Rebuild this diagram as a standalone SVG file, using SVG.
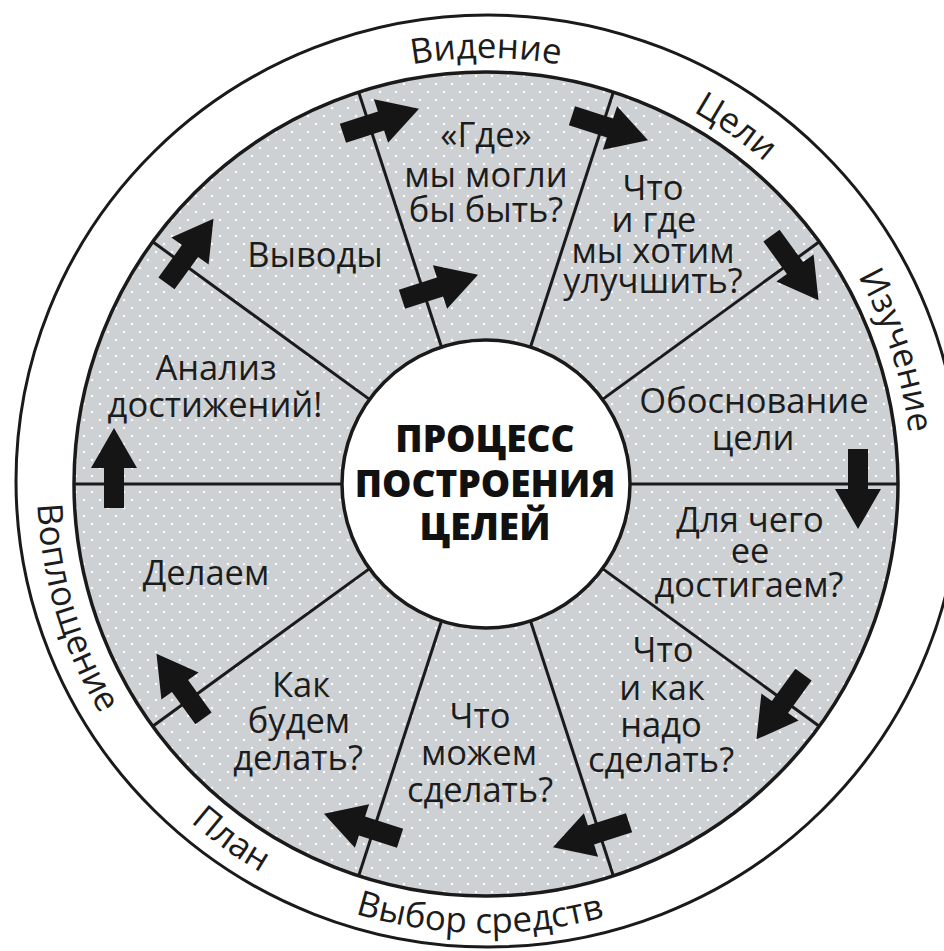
<svg xmlns="http://www.w3.org/2000/svg" width="944" height="951" viewBox="0 0 944 951">
  <defs>
    <pattern id="dots" patternUnits="userSpaceOnUse" width="16" height="16">
      <rect width="16" height="16" fill="#cdd1d4"/>
      <circle cx="4" cy="4" r="1.3" fill="#ffffff" opacity="0.9"/>
      <circle cx="12" cy="12" r="1.3" fill="#ffffff" opacity="0.9"/>
    </pattern>
    <path id="arcTop" d="M60,484 A426,426 0 1 1 912,484 A426,426 0 1 1 60,484"/>
    <path id="arcBottom" d="M37,484 A449,449 0 1 0 935,484 A449,449 0 1 0 37,484"/>
    <path id="arrow" d="M-40,-10 H0 V-23 L40,0 L0,23 V10 H-40 Z"/>
  </defs>
  <style>
    .lbl { font-family: "Open Sans", "Noto Sans", sans-serif; font-size: 34.5px; fill: #1c1c1c; text-anchor: middle; }
    .ring { font-family: "Open Sans", "Noto Sans", sans-serif; font-size: 35px; fill: #1c1c1c; }
    .title { font-family: "Open Sans", "Noto Sans", sans-serif; font-size: 37px; font-weight: 800; fill: #111; text-anchor: middle; }
    .div { stroke: #1a1a1a; stroke-width: 3; fill: none; }
    .arr { fill: #151515; }
  </style>
  <rect width="944" height="951" fill="#ffffff"/>
  <g id="outer-ring">
    <ellipse cx="488" cy="481" rx="472" ry="466" fill="#ffffff" stroke="#1a1a1a" stroke-width="3"/>
    <text class="ring"><textPath href="#arcTop" startOffset="669" text-anchor="middle">Видение</textPath></text>
    <text class="ring"><textPath href="#arcTop" startOffset="929" text-anchor="middle">Цели</textPath></text>
    <text class="ring"><textPath href="#arcTop" startOffset="1204" text-anchor="middle">Изучение</textPath></text>
    <text class="ring"><textPath href="#arcBottom" startOffset="699" text-anchor="middle">Выбор средств</textPath></text>
    <text class="ring"><textPath href="#arcBottom" startOffset="426" text-anchor="middle">План</textPath></text>
    <text class="ring"><textPath href="#arcBottom" startOffset="131" text-anchor="middle">Воплощение</textPath></text>
  </g>
  <g id="wheel">
    <circle cx="486" cy="484" r="412" fill="url(#dots)" stroke="#1a1a1a" stroke-width="3.5"/>
    <line class="div" x1="630" y1="484" x2="898" y2="484"/>
    <line class="div" x1="602.5" y1="568.6" x2="819.3" y2="726.2"/>
    <line class="div" x1="530.5" y1="621" x2="613.3" y2="875.8"/>
    <line class="div" x1="441.5" y1="621" x2="358.7" y2="875.8"/>
    <line class="div" x1="369.5" y1="568.6" x2="152.7" y2="726.2"/>
    <line class="div" x1="342" y1="484" x2="74" y2="484"/>
    <line class="div" x1="369.5" y1="399.4" x2="152.7" y2="241.8"/>
    <line class="div" x1="441.5" y1="347" x2="358.7" y2="92.2"/>
    <line class="div" x1="530.5" y1="347" x2="613.3" y2="92.2"/>
    <line class="div" x1="602.5" y1="399.4" x2="819.3" y2="241.8"/>
  </g>
  <g id="center">
    <circle cx="486" cy="484" r="144" fill="#ffffff" stroke="#1a1a1a" stroke-width="3.5"/>
    <text class="title" x="485" y="452">ПРОЦЕСС</text>
    <text class="title" x="485" y="497">ПОСТРОЕНИЯ</text>
    <text class="title" x="485" y="540">ЦЕЛЕЙ</text>
  </g>
  <g id="seg-gde">
    <text class="lbl" x="486" y="147">«Где»</text>
    <text class="lbl" x="486" y="187">мы могли</text>
    <text class="lbl" x="486" y="222">бы быть?</text>
  </g>
  <g id="seg-improve">
    <text class="lbl" x="653" y="200">Что</text>
    <text class="lbl" x="654" y="232">и где</text>
    <text class="lbl" x="653" y="263">мы хотим</text>
    <text class="lbl" x="653" y="293">улучшить?</text>
  </g>
  <g id="seg-justify">
    <text class="lbl" x="754" y="413">Обоснование</text>
    <text class="lbl" x="753" y="450">цели</text>
  </g>
  <g id="seg-why">
    <text class="lbl" x="750" y="532">Для чего</text>
    <text class="lbl" x="750" y="563">ее</text>
    <text class="lbl" x="749" y="597">достигаем?</text>
  </g>
  <g id="seg-what-how">
    <text class="lbl" x="663" y="662">Что</text>
    <text class="lbl" x="662" y="700">и как</text>
    <text class="lbl" x="661" y="737">надо</text>
    <text class="lbl" x="661" y="772">сделать?</text>
  </g>
  <g id="seg-can">
    <text class="lbl" x="480" y="728">Что</text>
    <text class="lbl" x="479" y="765">можем</text>
    <text class="lbl" x="480" y="802">сделать?</text>
  </g>
  <g id="seg-how">
    <text class="lbl" x="301" y="697">Как</text>
    <text class="lbl" x="299" y="733">будем</text>
    <text class="lbl" x="298" y="770">делать?</text>
  </g>
  <g id="seg-do">
    <text class="lbl" x="206" y="585">Делаем</text>
  </g>
  <g id="seg-analysis">
    <text class="lbl" x="216" y="380">Анализ</text>
    <text class="lbl" x="215" y="417">достижений!</text>
  </g>
  <g id="seg-conclusions">
    <text class="lbl" x="315" y="267">Выводы</text>
  </g>
  <g id="connectors">
    <use href="#arrow" class="arr" transform="translate(858,489) rotate(90)"/>
    <use href="#arrow" class="arr" transform="translate(780,707) rotate(126)"/>
    <use href="#arrow" class="arr" transform="translate(591,835) rotate(162)"/>
    <use href="#arrow" class="arr" transform="translate(362,826) rotate(198)"/>
    <use href="#arrow" class="arr" transform="translate(180,686) rotate(234)"/>
    <use href="#arrow" class="arr" transform="translate(114,468) rotate(270)"/>
    <use href="#arrow" class="arr" transform="translate(190,251) rotate(306)"/>
    <use href="#arrow" class="arr" transform="translate(381,121) rotate(342)"/>
    <use href="#arrow" class="arr" transform="translate(440,287) rotate(342)"/>
    <use href="#arrow" class="arr" transform="translate(610,128) rotate(18)"/>
    <use href="#arrow" class="arr" transform="translate(795,268) rotate(54)"/>
  </g>
</svg>
